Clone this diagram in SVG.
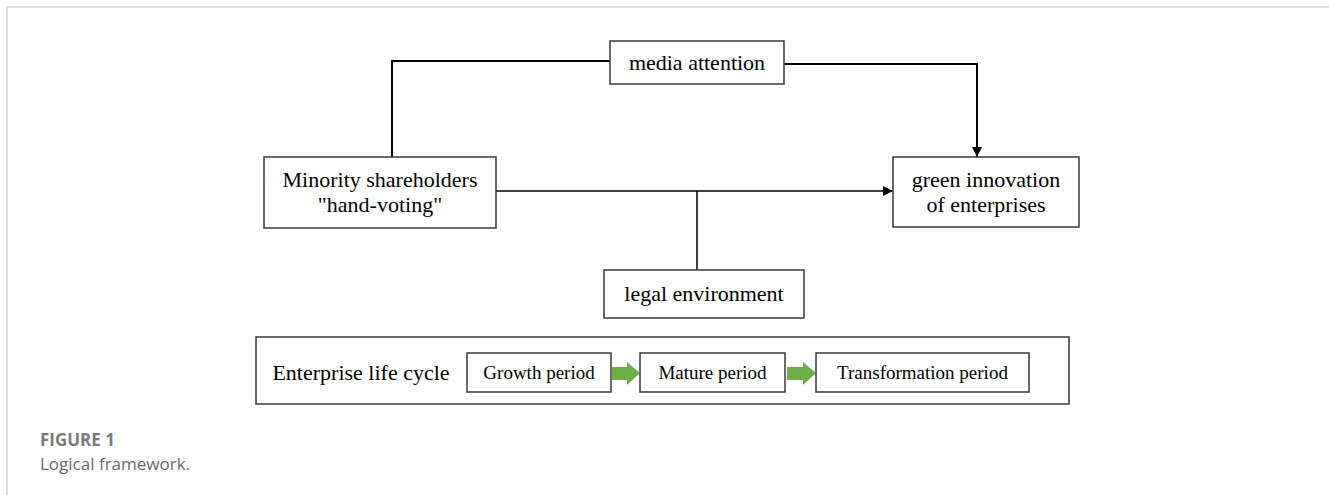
<svg xmlns="http://www.w3.org/2000/svg" width="1329" height="495" viewBox="0 0 1329 495">
<style>
.box{fill:#fff;stroke:#3a3a3a;stroke-width:1.5}
.t{font-family:"Liberation Serif","Times New Roman",serif;font-size:22px;fill:#000;text-anchor:middle}
.ts{font-family:"Liberation Serif","Times New Roman",serif;font-size:19px;fill:#000;text-anchor:middle}
.ln{fill:none;stroke:#000}
.ga{fill:#70AD47}
.cap{font-family:"Open Sans","Noto Sans",sans-serif;font-size:17px}
</style>
<defs>
<marker id="ah" viewBox="0 0 10 10" refX="10" refY="5" markerWidth="10" markerHeight="10" markerUnits="userSpaceOnUse" orient="auto">
<path d="M0,0 L10,5 L0,10 z" fill="#000"/>
</marker>
</defs>
<rect width="1329" height="495" fill="#fff"/>
<path d="M7,495 V7 H1329" fill="none" stroke="#cfcfcf" stroke-width="1.5"/>
<g id="connectors">
<path class="ln" stroke-width="2" d="M610,61 H392 V157"/>
<path class="ln" stroke-width="2" d="M784,64 H977 V157" marker-end="url(#ah)"/>
<path class="ln" stroke-width="1.5" d="M496,191 H893" marker-end="url(#ah)"/>
<path class="ln" stroke-width="1.5" d="M697,191 V270"/>
</g>
<g id="media">
<rect class="box" x="610" y="41" width="174" height="43"/>
<text class="t" x="697" y="70">media attention</text>
</g>
<g id="minority">
<rect class="box" x="264" y="157" width="232" height="71"/>
<text class="t" x="380" y="187">Minority shareholders</text>
<text class="t" x="380" y="212">"hand-voting"</text>
</g>
<g id="green">
<rect class="box" x="893" y="157" width="186" height="70"/>
<text class="t" x="986" y="187">green innovation</text>
<text class="t" x="986" y="212">of enterprises</text>
</g>
<g id="legal">
<rect class="box" x="604" y="270" width="200" height="48"/>
<text class="t" x="704" y="301">legal environment</text>
</g>
<g id="lifecycle">
<rect class="box" x="256" y="337" width="813" height="67"/>
<text class="t" x="361" y="380">Enterprise life cycle</text>
<g id="growth">
<rect class="box" x="467" y="353" width="144" height="39"/>
<text class="ts" x="539" y="379">Growth period</text>
</g>
<path class="ga" d="M612,367 H627 V362 L640,373 L627,385 V380 H612 z"/>
<g id="mature">
<rect class="box" x="640" y="353" width="145" height="39"/>
<text class="ts" x="712.5" y="379">Mature period</text>
</g>
<path class="ga" d="M787,367 H803 V362 L816,373 L803,385 V380 H787 z"/>
<g id="transformation">
<rect class="box" x="816" y="353" width="213" height="39"/>
<text class="ts" x="922.5" y="379">Transformation period</text>
</g>
</g>
<text class="cap" x="40" y="446" font-weight="bold" fill="#7a7a7a">FIGURE 1</text>
<text class="cap" x="40" y="470" fill="#6a6a6a">Logical framework.</text>
</svg>
